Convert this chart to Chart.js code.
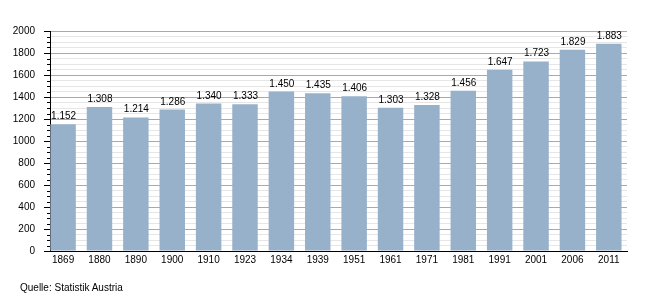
<!DOCTYPE html>
<html>
<head>
<meta charset="utf-8">
<script src="https://cdn.jsdelivr.net/npm/chart.js@4"></script>
<style>
  html, body { margin: 0; padding: 0; background: #ffffff; }
  #wrap { position: relative; width: 650px; height: 300px; }
  #src { position: absolute; left: 20px; top: 282px; font: 10px "Liberation Sans", Arial, sans-serif; color: #000; }
</style>
</head>
<body>
<div id="wrap">
  <canvas id="c" width="650" height="300"></canvas>
  <div id="src">Quelle: Statistik Austria</div>
</div>
<script>
const years = ["1869","1880","1890","1900","1910","1923","1934","1939","1951","1961","1971","1981","1991","2001","2006","2011"];
const population = [1152,1308,1214,1286,1340,1333,1450,1435,1406,1303,1328,1456,1647,1723,1829,1883];
const yMax = 2000;
const yMajorStep = 200;
const yMinorStep = 50;

const FONT = '"Liberation Sans", Arial, sans-serif';

function fmtDE(v) {
  return String(v).replace(/\B(?=(\d{3})+(?!\d))/g, '.');
}

const labelPlugin = {
  id: 'valueLabels',
  afterDatasetsDraw(chart) {
    const ctx = chart.ctx;
    const meta = chart.getDatasetMeta(0);
    ctx.save();
    ctx.font = '10px ' + FONT;
    ctx.fillStyle = '#000';
    ctx.textAlign = 'center';
    ctx.textBaseline = 'alphabetic';
    meta.data.forEach((bar, i) => {
      ctx.fillText(fmtDE(population[i]), bar.x + 0.5, bar.y - 5);
    });
    ctx.restore();
  }
};

const tickPlugin = {
  id: 'yTickMarks',
  afterDraw(chart) {
    const ctx = chart.ctx;
    const y = chart.scales.y;
    const x0 = chart.chartArea.left;
    ctx.save();
    ctx.strokeStyle = '#000';
    ctx.lineWidth = 1;
    for (let v = 0; v <= yMax; v += yMinorStep) {
      const py = Math.round(y.getPixelForValue(v)) + 0.5;
      const len = (v % yMajorStep === 0) ? 6 : 3;
      ctx.beginPath();
      ctx.moveTo(x0 - len, py);
      ctx.lineTo(x0, py);
      ctx.stroke();
    }
    ctx.restore();
  }
};

new Chart(document.getElementById('c'), {
  type: 'bar',
  data: {
    datasets: [{
      data: population.map((v, i) => ({ x: i, y: v })),
      backgroundColor: '#97b1cb',
      borderWidth: 0,
      barPercentage: 0.7,
      categoryPercentage: 1.0
    }]
  },
  options: {
    responsive: false,
    animation: false,
    events: [],
    layout: { padding: { left: 0, right: 23, top: 31, bottom: 0 } },
    plugins: {
      legend: { display: false },
      tooltip: { enabled: false },
      title: { display: false }
    },
    scales: {
      x: {
        type: 'linear',
        min: -0.36,
        max: 15.5,
        offset: false,
        afterBuildTicks(scale) {
          scale.ticks = years.map((_, i) => ({ value: i }));
        },
        afterFit(scale) { scale.height = 49; },
        grid: { display: false, drawTicks: false },
        border: { display: true, color: '#000', width: 1 },
        ticks: {
          autoSkip: false,
          maxRotation: 0,
          padding: 3,
          color: '#000',
          font: { family: FONT, size: 10 },
          callback: (v) => years[v]
        }
      },
      y: {
        min: 0,
        max: yMax,
        afterBuildTicks(scale) {
          const t = [];
          for (let v = 0; v <= yMax; v += yMinorStep) t.push({ value: v });
          scale.ticks = t;
        },
        afterFit(scale) { scale.width = 50; },
        grid: {
          drawTicks: false,
          color: (c) => (c.tick && c.tick.value % yMajorStep === 0) ? '#a9a9a9' : '#e6e6e6',
          lineWidth: 1
        },
        border: { display: true, color: '#000', width: 1 },
        ticks: {
          autoSkip: false,
          padding: 15,
          color: '#000',
          font: { family: FONT, size: 10 },
          callback: (v) => (v % yMajorStep === 0 ? String(v) : '')
        }
      }
    }
  },
  plugins: [labelPlugin, tickPlugin]
});
</script>
</body>
</html>
